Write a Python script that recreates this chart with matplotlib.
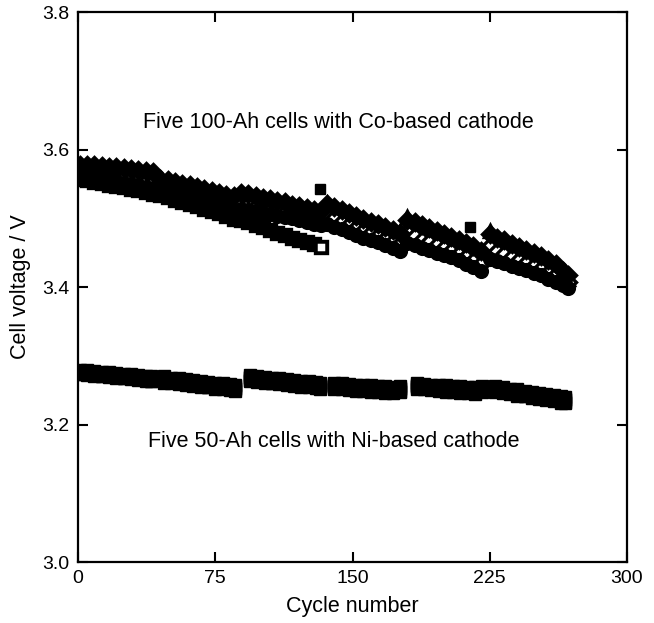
import numpy as np
import matplotlib
matplotlib.use('Agg')
import matplotlib.pyplot as plt

plt.rcParams['font.family'] = ['Liberation Sans', 'DejaVu Sans']

# ── Cycle numbers at which voltages were read (six test blocks each) ──────────
CO_CYCLES = [1, 5, 9, 13, 17, 21, 25, 29, 33, 37, 41,
             45, 49, 53, 57, 61, 65, 69, 73, 77, 81, 85,
             89, 93, 97, 101, 105, 109, 113, 117, 121, 125, 129, 133,
             136, 140, 144, 148, 152, 156, 160, 164, 168, 172, 176,
             180, 184, 188, 192, 196, 200, 204, 208, 212, 216, 220,
             225, 229, 233, 237, 241, 245, 249, 253, 257, 261, 265, 268]

NI_CYCLES = [1, 5, 9, 13, 17, 21, 25, 29, 33, 37, 40,
             47, 51, 55, 59, 63, 67, 71, 75, 79, 83, 86,
             94, 98, 102, 106, 110, 114, 118, 122, 126, 130, 132,
             140, 144, 148, 152, 156, 160, 164, 168, 172, 176,
             185, 189, 193, 197, 201, 205, 209, 213, 217, 221,
             228, 232, 236, 240, 244, 248, 252, 256, 260, 264, 266]

# ── Co-based 100-Ah cells, cell voltage in mV ─────────────────────────────────
# cell A was taken off test after cycle 133
CO_CELL_A = [3557, 3555, 3553, 3551, 3549, 3547, 3545, 3543, 3541, 3538, 3536,
             3534, 3531, 3527, 3524, 3521, 3518, 3514, 3511, 3507, 3503, 3499,
             3497, 3494, 3490, 3487, 3483, 3479, 3475, 3471, 3468, 3465, 3462, 3458]
CO_CELL_B = [3578, 3578, 3577, 3576, 3575, 3574, 3573, 3572, 3570, 3569, 3567,
             3557, 3555, 3553, 3550, 3548, 3545, 3542, 3540, 3537, 3534, 3532,
             3537, 3535, 3532, 3530, 3528, 3525, 3523, 3520, 3518, 3515, 3512, 3510,
             3521, 3516, 3512, 3507, 3503, 3499, 3495, 3491, 3487, 3483, 3479,
             3498, 3494, 3490, 3486, 3482, 3477, 3473, 3469, 3464, 3459, 3453,
             3477, 3472, 3468, 3463, 3458, 3454, 3450, 3445, 3440, 3433, 3424, 3418]
CO_CELL_C = [3572, 3571, 3570, 3569, 3568, 3566, 3565, 3563, 3561, 3560, 3558,
             3550, 3548, 3545, 3543, 3540, 3538, 3535, 3532, 3529, 3526, 3523,
             3530, 3526, 3523, 3521, 3519, 3517, 3514, 3512, 3509, 3506, 3503, 3500,
             3522, 3510, 3505, 3500, 3495, 3491, 3487, 3483, 3479, 3475, 3470,
             3502, 3488, 3481, 3476, 3471, 3467, 3463, 3458, 3453, 3448, 3443,
             3482, 3466, 3458, 3453, 3448, 3443, 3439, 3434, 3429, 3424, 3418, 3412]
CO_CELL_D = [3567, 3566, 3565, 3563, 3562, 3560, 3559, 3557, 3555, 3553, 3551,
             3545, 3542, 3540, 3537, 3535, 3532, 3529, 3526, 3523, 3520, 3517,
             3522, 3519, 3517, 3514, 3512, 3510, 3507, 3505, 3502, 3499, 3496, 3494,
             3506, 3500, 3495, 3490, 3486, 3482, 3478, 3474, 3470, 3466, 3462,
             3480, 3474, 3469, 3465, 3461, 3457, 3452, 3448, 3443, 3438, 3433,
             3460, 3453, 3448, 3443, 3439, 3435, 3430, 3426, 3421, 3417, 3412, 3407]
CO_CELL_E = [3561, 3560, 3558, 3557, 3555, 3554, 3552, 3550, 3548, 3546, 3544,
             3540, 3537, 3535, 3532, 3529, 3527, 3524, 3521, 3518, 3515, 3512,
             3514, 3512, 3510, 3508, 3506, 3504, 3502, 3500, 3497, 3495, 3492, 3490,
             3491, 3488, 3484, 3480, 3476, 3472, 3468, 3465, 3461, 3457, 3453,
             3464, 3461, 3457, 3454, 3450, 3447, 3443, 3439, 3434, 3429, 3424,
             3441, 3438, 3435, 3431, 3428, 3425, 3421, 3417, 3412, 3408, 3403, 3399]

# stray readings logged above the band
CO_STRAY_CYCLES = [132, 214]
CO_STRAY_MV = [3543, 3487]

# ── Ni-based 50-Ah cells, cell voltage in mV ──────────────────────────────────
NI_CELL_1 = [3280, 3279, 3278, 3277, 3276, 3275, 3274, 3273, 3272, 3271, 3270,
             3270, 3268, 3267, 3266, 3265, 3263, 3262, 3261, 3260, 3259, 3258,
             3272, 3270, 3269, 3268, 3267, 3266, 3265, 3264, 3263, 3262, 3261,
             3261, 3260, 3259, 3258, 3258, 3257, 3256, 3256, 3255, 3256,
             3260, 3259, 3258, 3258, 3257, 3256, 3256, 3255, 3254, 3256,
             3256, 3254, 3252, 3251, 3249, 3248, 3246, 3245, 3243, 3241, 3240]
NI_CELL_2 = [3278, 3277, 3276, 3275, 3274, 3273, 3272, 3271, 3270, 3269, 3268,
             3267, 3266, 3265, 3263, 3262, 3261, 3260, 3258, 3257, 3256, 3256,
             3269, 3268, 3267, 3266, 3265, 3264, 3263, 3262, 3260, 3259, 3258,
             3258, 3257, 3256, 3256, 3255, 3254, 3254, 3253, 3252, 3253,
             3258, 3257, 3256, 3255, 3254, 3254, 3253, 3252, 3251, 3253,
             3253, 3252, 3250, 3248, 3247, 3245, 3244, 3242, 3240, 3239, 3237]
NI_CELL_3 = [3276, 3275, 3274, 3273, 3272, 3271, 3270, 3269, 3268, 3267, 3266,
             3265, 3264, 3263, 3261, 3260, 3259, 3258, 3256, 3255, 3254, 3253,
             3267, 3266, 3265, 3264, 3263, 3262, 3260, 3259, 3258, 3257, 3256,
             3256, 3255, 3254, 3254, 3253, 3252, 3251, 3251, 3250, 3251,
             3256, 3255, 3254, 3253, 3252, 3251, 3250, 3250, 3249, 3251,
             3251, 3250, 3248, 3246, 3245, 3243, 3241, 3240, 3238, 3236, 3235]
NI_CELL_4 = [3274, 3273, 3272, 3271, 3270, 3269, 3268, 3267, 3266, 3265, 3264,
             3263, 3262, 3260, 3259, 3258, 3257, 3255, 3254, 3253, 3252, 3251,
             3265, 3264, 3263, 3261, 3260, 3259, 3258, 3257, 3256, 3255, 3254,
             3254, 3253, 3252, 3251, 3250, 3250, 3249, 3248, 3248, 3249,
             3254, 3253, 3252, 3251, 3250, 3249, 3248, 3247, 3247, 3249,
             3249, 3248, 3246, 3244, 3242, 3241, 3239, 3237, 3236, 3234, 3233]
NI_CELL_5 = [3273, 3272, 3271, 3270, 3269, 3268, 3267, 3266, 3265, 3264, 3263,
             3261, 3260, 3259, 3257, 3256, 3255, 3254, 3252, 3251, 3250, 3249,
             3263, 3262, 3261, 3260, 3259, 3257, 3256, 3255, 3254, 3253, 3252,
             3252, 3251, 3250, 3249, 3249, 3248, 3247, 3246, 3246, 3247,
             3252, 3251, 3250, 3249, 3248, 3247, 3246, 3246, 3245, 3247,
             3247, 3246, 3244, 3242, 3241, 3239, 3237, 3236, 3234, 3232, 3231]

CO_LABEL = 'Five 100-Ah cells with Co-based cathode'
NI_LABEL = 'Five 50-Ah cells with Ni-based cathode'


def mv_to_v(vals):
    return np.asarray(vals, dtype=float) / 1000.0


fig = plt.figure(figsize=(6.54, 6.23), dpi=100)
ax = fig.add_axes([0.1193, 0.0979, 0.8394, 0.8828])

# Co-based cells: dense overlapping markers; the open ones sit in the middle
co_cells = [(CO_CELL_C, '^', 'white'), (CO_CELL_D, 'D', 'white'),
            (CO_CELL_A, 's', 'black'), (CO_CELL_E, 'o', 'black'),
            (CO_CELL_B, 'D', 'black')]
for volts, marker, face in co_cells:
    ax.plot(CO_CYCLES[:len(volts)], mv_to_v(volts), linestyle='none',
            marker=marker, markersize=8.5, markerfacecolor=face,
            markeredgecolor='black', markeredgewidth=2.4)
# last reading of cell A shown open
ax.plot(CO_CYCLES[len(CO_CELL_A) - 1], CO_CELL_A[-1] / 1000.0, marker='s',
        markersize=7, markerfacecolor='white', markeredgecolor='black',
        markeredgewidth=1.8)
ax.plot(CO_STRAY_CYCLES, mv_to_v(CO_STRAY_MV), linestyle='none', marker='s',
        markersize=7.5, color='black')

# Ni-based cells: filled squares
for volts in [NI_CELL_1, NI_CELL_2, NI_CELL_3, NI_CELL_4, NI_CELL_5]:
    ax.plot(NI_CYCLES, mv_to_v(volts), linestyle='none', marker='s',
            markersize=8, color='black')

ax.text(35.5, 3.640, CO_LABEL, fontsize=15.5, va='center', ha='left')
ax.text(38.3, 3.176, NI_LABEL, fontsize=15.5, va='center', ha='left')

ax.set_xlim(0, 300)
ax.set_ylim(3.0, 3.8)
ax.set_xticks([0, 75, 150, 225, 300])
ax.set_yticks([3.0, 3.2, 3.4, 3.6, 3.8])
ax.yaxis.set_major_formatter(matplotlib.ticker.FormatStrFormatter('%.1f'))
ax.tick_params(direction='in', length=7, width=1.5, labelsize=14,
               top=True, right=True, pad=6)
for spine in ax.spines.values():
    spine.set_linewidth(1.6)

ax.set_xlabel('Cycle number', fontsize=15.5, labelpad=6)
ax.set_ylabel('Cell voltage / V', fontsize=15.5, labelpad=8)

fig.savefig('out.png', dpi=100)
